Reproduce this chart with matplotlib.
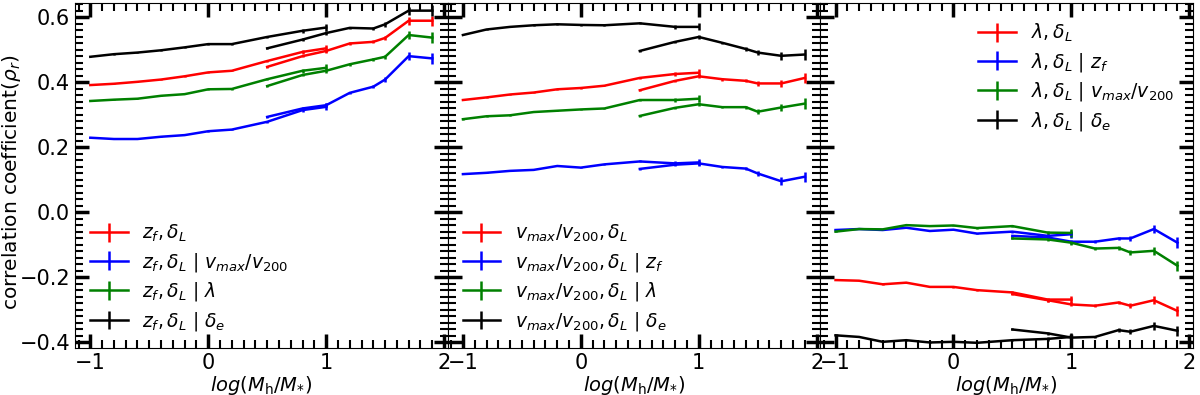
import numpy as np
import matplotlib.pyplot as plt
from matplotlib.ticker import MultipleLocator

# mass bins: low-mass sample and high-mass sample
x_lo = [-1.0, -0.8, -0.6, -0.4, -0.2, 0.0, 0.2, 0.5, 0.8, 1.0]
x_hi = [0.5, 0.8, 1.0, 1.2, 1.4, 1.5, 1.7, 1.9]
err_lo = [0.001, 0.001, 0.001, 0.001, 0.001, 0.002, 0.002, 0.003, 0.006, 0.011]
err_hi = [0.003, 0.004, 0.006, 0.004, 0.005, 0.007, 0.012, 0.016]

# panel 1: z_f vs delta_L
p1_red_lo = [0.391, 0.395, 0.401, 0.408, 0.418, 0.430, 0.435, 0.465, 0.493, 0.504]
p1_red_hi = [0.447, 0.480, 0.496, 0.519, 0.524, 0.536, 0.589, 0.589]
p1_blue_lo = [0.229, 0.225, 0.225, 0.232, 0.237, 0.249, 0.254, 0.278, 0.314, 0.324]
p1_blue_hi = [0.293, 0.319, 0.329, 0.367, 0.386, 0.408, 0.480, 0.473]
p1_green_lo = [0.342, 0.346, 0.349, 0.358, 0.363, 0.378, 0.379, 0.409, 0.435, 0.444]
p1_green_hi = [0.388, 0.422, 0.435, 0.455, 0.470, 0.478, 0.545, 0.537]
p1_black_lo = [0.478, 0.486, 0.491, 0.498, 0.507, 0.517, 0.517, 0.539, 0.558, 0.568]
p1_black_hi = [0.504, 0.531, 0.551, 0.567, 0.565, 0.578, 0.620, 0.620]

# panel 2: vmax/v200 vs delta_L
p2_red_lo = [0.345, 0.353, 0.362, 0.368, 0.378, 0.382, 0.389, 0.413, 0.425, 0.429]
p2_red_hi = [0.375, 0.404, 0.418, 0.409, 0.404, 0.396, 0.396, 0.413]
p2_blue_lo = [0.117, 0.121, 0.127, 0.130, 0.142, 0.137, 0.147, 0.156, 0.150, 0.153]
p2_blue_hi = [0.133, 0.146, 0.150, 0.139, 0.134, 0.119, 0.095, 0.109]
p2_green_lo = [0.286, 0.295, 0.298, 0.308, 0.312, 0.316, 0.319, 0.345, 0.345, 0.349]
p2_green_hi = [0.296, 0.321, 0.332, 0.323, 0.323, 0.309, 0.322, 0.334]
p2_black_lo = [0.545, 0.562, 0.570, 0.575, 0.578, 0.576, 0.575, 0.581, 0.570, 0.570]
p2_black_hi = [0.496, 0.524, 0.539, 0.521, 0.502, 0.491, 0.481, 0.485]

# panel 3: lambda vs delta_L
p3_red_lo = [-0.209, -0.211, -0.222, -0.217, -0.230, -0.230, -0.240, -0.247, -0.269, -0.269]
p3_red_hi = [-0.252, -0.271, -0.284, -0.288, -0.278, -0.288, -0.271, -0.304]
p3_blue_lo = [-0.055, -0.052, -0.055, -0.048, -0.058, -0.054, -0.066, -0.060, -0.073, -0.068]
p3_blue_hi = [-0.073, -0.078, -0.091, -0.091, -0.081, -0.081, -0.052, -0.094]
p3_green_lo = [-0.060, -0.052, -0.053, -0.040, -0.043, -0.041, -0.049, -0.043, -0.063, -0.064]
p3_green_hi = [-0.081, -0.084, -0.094, -0.112, -0.110, -0.124, -0.119, -0.165]
p3_black_lo = [-0.379, -0.384, -0.399, -0.394, -0.401, -0.399, -0.402, -0.394, -0.390, -0.384]
p3_black_hi = [-0.361, -0.373, -0.386, -0.384, -0.363, -0.368, -0.350, -0.365]

labels1 = [r'$z_f, \delta_L$', r'$z_f, \delta_L\ |\ v_{max}/v_{200}$',
           r'$z_f, \delta_L\ |\ \lambda$', r'$z_f, \delta_L\ |\ \delta_e$']
labels2 = [r'$v_{max}/v_{200}, \delta_L$', r'$v_{max}/v_{200}, \delta_L\ |\ z_f$',
           r'$v_{max}/v_{200}, \delta_L\ |\ \lambda$', r'$v_{max}/v_{200}, \delta_L\ |\ \delta_e$']
labels3 = [r'$\lambda, \delta_L$', r'$\lambda, \delta_L\ |\ z_f$',
           r'$\lambda, \delta_L\ |\ v_{max}/v_{200}$', r'$\lambda, \delta_L\ |\ \delta_e$']

colors = ['red', 'blue', 'green', 'black']

panels = [
    ([p1_red_lo, p1_blue_lo, p1_green_lo, p1_black_lo],
     [p1_red_hi, p1_blue_hi, p1_green_hi, p1_black_hi], labels1, 'lower left'),
    ([p2_red_lo, p2_blue_lo, p2_green_lo, p2_black_lo],
     [p2_red_hi, p2_blue_hi, p2_green_hi, p2_black_hi], labels2, 'lower left'),
    ([p3_red_lo, p3_blue_lo, p3_green_lo, p3_black_lo],
     [p3_red_hi, p3_blue_hi, p3_green_hi, p3_black_hi], labels3, 'upper right'),
]

fig, axes = plt.subplots(1, 3, figsize=(12, 3.95), dpi=100, sharey=True)
plt.subplots_adjust(left=0.0625, right=0.994, top=0.992, bottom=0.119, wspace=0)

for ax, (lo, hi, labs, loc) in zip(axes, panels):
    for c, ylo, yhi, lab in zip(colors, lo, hi, labs):
        ax.errorbar(x_lo, ylo, yerr=err_lo, color=c, lw=1.8, elinewidth=1.8, capsize=0, label=lab)
        ax.errorbar(x_hi, yhi, yerr=err_hi, color=c, lw=1.8, elinewidth=1.8, capsize=0)
    ax.set_xlim(-1.13, 2.03)
    ax.set_ylim(-0.418, 0.643)
    ax.set_xticks([-1, 0, 1, 2])
    ax.xaxis.set_minor_locator(MultipleLocator(0.1))
    ax.yaxis.set_minor_locator(MultipleLocator(0.02))
    ax.tick_params(which='both', direction='in', top=True, right=True, labelsize=15)
    ax.tick_params(which='major', length=10, width=2.5)
    ax.tick_params(which='minor', length=6, width=1.5)
    ax.set_xlabel(r'$log(M_{\rm h}/M_{*})$', fontsize=14, labelpad=1)
    if loc == 'upper right':
        ax.legend(loc=loc, frameon=False, fontsize=13.5, handlelength=2, labelspacing=0.35,
                  borderaxespad=0.6)
    else:
        ax.legend(loc=loc, frameon=False, fontsize=13.5, handlelength=2, labelspacing=0.35,
                  borderaxespad=0.4)

axes[0].set_ylabel(r'correlation coefficient($\rho_r$)', fontsize=14.5)
axes[0].yaxis.set_label_coords(-0.139, 0.48)

plt.savefig('out.png')
